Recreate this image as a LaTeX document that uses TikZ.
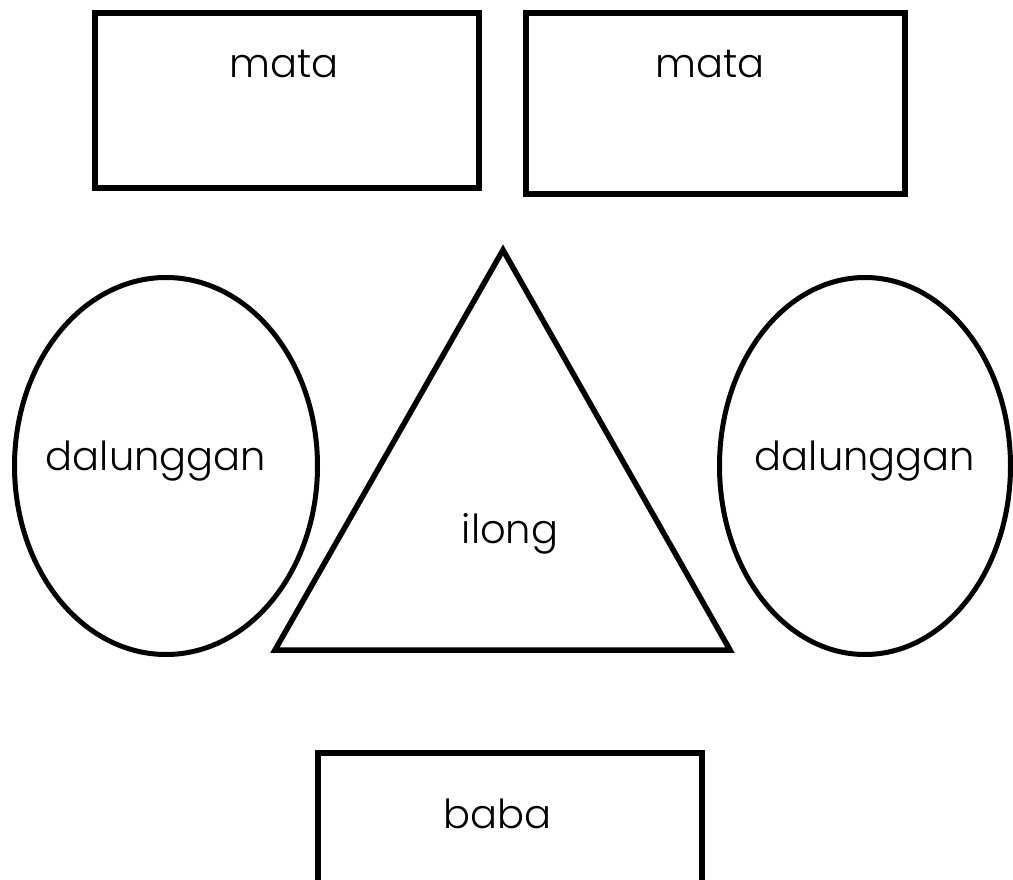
\documentclass[tikz,border=0pt]{standalone}
\usepackage{fontspec}
\setmainfont{Poppins}[UprightFont=* Light]
\usetikzlibrary{shapes.geometric}
\tikzset{
  boxshape/.style={draw=black, line width=6pt, rectangle, inner sep=0pt},
  ovalshape/.style={draw=black, line width=5pt, ellipse, inner sep=0pt},
  lbl/.style={anchor=base, inner sep=0pt, font=\fontsize{40}{48}\selectfont},
}
\begin{document}
\begin{tikzpicture}[x=1pt, y=-1pt]
\useasboundingbox (0,0) rectangle (1013,880);
\clip (0,0) rectangle (1013,880);
% top boxes
\node[boxshape, minimum width=384pt, minimum height=175pt] (box1) at (287,100.5) {};
\node[boxshape, minimum width=379pt, minimum height=181pt] (box2) at (715.5,103.5) {};
\node[lbl] (t1) at (284,78) {mata};
\node[lbl] (t2) at (710,78) {mata};
% ellipses
\node[ovalshape, minimum width=303pt, minimum height=377pt] (el) at (166,466) {};
\node[ovalshape, minimum width=291pt, minimum height=377pt] (er) at (865,466) {};
\node[lbl] (t3) at (156,470) {dalunggan};
\node[lbl] (t4) at (865,470) {dalunggan};
% triangle
\coordinate (apex) at (503,250);
\coordinate (bl) at (275,650);
\coordinate (br) at (730,650);
\draw[line width=5.5pt, line join=miter] (apex) -- (bl) -- (br) -- cycle;
\node[lbl] (t5) at (510,543) {ilong};
% bottom box
\node[boxshape, minimum width=384pt, minimum height=160pt] (box3) at (510,833) {};
\node[lbl] (t6) at (497,828) {baba};
\end{tikzpicture}
\end{document}
